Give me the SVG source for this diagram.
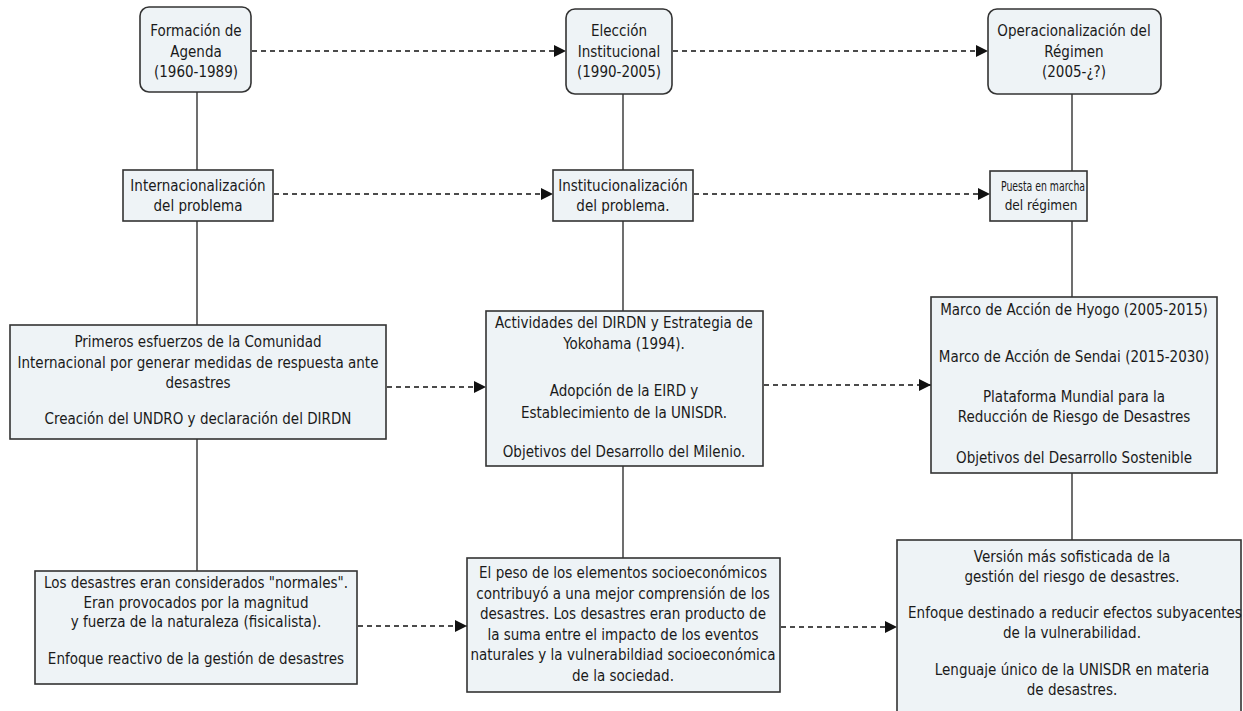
<svg xmlns="http://www.w3.org/2000/svg" width="1243" height="711" viewBox="0 0 1243 711">
<defs>
<marker id="ah" viewBox="0 0 10 10" refX="10" refY="5" markerWidth="12" markerHeight="12" markerUnits="userSpaceOnUse" orient="auto">
<path d="M0,0 L10,5 L0,10 z" fill="#111"/>
</marker>
</defs>
<style>
.box{fill:#eef3f6;stroke:#333;stroke-width:1.6}
.t{font-family:"DejaVu Sans Condensed","DejaVu Sans","Liberation Sans",sans-serif;font-stretch:condensed;font-size:15px;fill:#1a1a1a;text-anchor:middle}
.s{font-size:13.5px}
.solid{stroke:#222;stroke-width:1.3;fill:none}
.dash{stroke:#111;stroke-width:1.5;fill:none;stroke-dasharray:5 4;marker-end:url(#ah)}
</style>
<rect width="1243" height="711" fill="#fff"/>
<g id="connectors">
<path class="solid" d="M197,92 V170 M197,221 V325 M197,439 V571"/>
<path class="solid" d="M623,94 V170 M623,221 V311 M623,466 V558"/>
<path class="solid" d="M1072,94 V171 M1072,221 V297 M1072,473 V540"/>
<path class="dash" d="M252,51 H566"/>
<path class="dash" d="M673,51 H988"/>
<path class="dash" d="M274,194 H553"/>
<path class="dash" d="M694,194 H990"/>
<path class="dash" d="M387,387 H486"/>
<path class="dash" d="M764,385 H931"/>
<path class="dash" d="M358,626 H467"/>
<path class="dash" d="M781,627 H897"/>
</g>
<g id="n1">
<rect class="box" x="140" y="7" width="111" height="85" rx="9"/>
<text class="t" x="196" y="36">Formación de</text>
<text class="t" x="196" y="57">Agenda</text>
<text class="t" x="196" y="77">(1960-1989)</text>
</g>
<g id="n2">
<rect class="box" x="566" y="9" width="106" height="85" rx="9"/>
<text class="t" x="619" y="36">Elección</text>
<text class="t" x="619" y="57">Institucional</text>
<text class="t" x="619" y="77">(1990-2005)</text>
</g>
<g id="n3">
<rect class="box" x="988" y="9" width="173" height="85" rx="9"/>
<text class="t" x="1074" y="36">Operacionalización del</text>
<text class="t" x="1074" y="57">Régimen</text>
<text class="t" x="1074" y="77">(2005-¿?)</text>
</g>
<g id="n4">
<rect class="box" x="123" y="170" width="150" height="51"/>
<text class="t" x="198" y="191">Internacionalización</text>
<text class="t" x="198" y="211">del problema</text>
</g>
<g id="n5">
<rect class="box" x="553" y="170" width="140" height="51"/>
<text class="t" x="623" y="191">Institucionalización</text>
<text class="t" x="623" y="211">del problema.</text>
</g>
<g id="n6">
<rect class="box" x="990" y="171" width="97" height="50"/>
<text class="t s" x="1043" y="191" textLength="84" lengthAdjust="spacingAndGlyphs">Puesta en marcha</text>
<text class="t s" x="1041" y="210">del régimen</text>
</g>
<g id="n7">
<rect class="box" x="10" y="325" width="376" height="114"/>
<text class="t" x="198" y="347">Primeros esfuerzos de la Comunidad</text>
<text class="t" x="198" y="368">Internacional por generar medidas de respuesta ante</text>
<text class="t" x="198" y="388">desastres</text>
<text class="t" x="198" y="424">Creación del UNDRO y declaración del DIRDN</text>
</g>
<g id="n8">
<rect class="box" x="486" y="311" width="277" height="155"/>
<text class="t" x="624" y="328">Actividades del DIRDN y Estrategia de</text>
<text class="t" x="624" y="349">Yokohama (1994).</text>
<text class="t" x="624" y="396">Adopción de la EIRD y</text>
<text class="t" x="624" y="418">Establecimiento de la UNISDR.</text>
<text class="t" x="624" y="457">Objetivos del Desarrollo del Milenio.</text>
</g>
<g id="n9">
<rect class="box" x="931" y="297" width="286" height="176"/>
<text class="t" x="1074" y="315">Marco de Acción de Hyogo (2005-2015)</text>
<text class="t" x="1074" y="362">Marco de Acción de Sendai (2015-2030)</text>
<text class="t" x="1074" y="402">Plataforma Mundial para la</text>
<text class="t" x="1074" y="422">Reducción de Riesgo de Desastres</text>
<text class="t" x="1074" y="463">Objetivos del Desarrollo Sostenible</text>
</g>
<g id="n10">
<rect class="box" x="35" y="571" width="322" height="113"/>
<text class="t" x="196" y="588">Los desastres eran considerados "normales".</text>
<text class="t" x="196" y="608">Eran provocados por la magnitud</text>
<text class="t" x="196" y="627">y fuerza de la naturaleza (fisicalista).</text>
<text class="t" x="196" y="664">Enfoque reactivo de la gestión de desastres</text>
</g>
<g id="n11">
<rect class="box" x="467" y="558" width="313" height="134"/>
<text class="t" x="623" y="578">El peso de los elementos socioeconómicos</text>
<text class="t" x="623" y="599">contribuyó a una mejor comprensión de los</text>
<text class="t" x="623" y="619">desastres. Los desastres eran producto de</text>
<text class="t" x="623" y="640">la suma entre el impacto de los eventos</text>
<text class="t" x="623" y="660">naturales y la vulnerabildiad socioeconómica</text>
<text class="t" x="623" y="681">de la sociedad.</text>
</g>
<g id="n12">
<rect class="box" x="897" y="540" width="344" height="180"/>
<text class="t" x="1072" y="562">Versión más sofisticada de la</text>
<text class="t" x="1072" y="582">gestión del riesgo de desastres.</text>
<text class="t" x="1075" y="618">Enfoque destinado a reducir efectos subyacentes</text>
<text class="t" x="1072" y="638">de la vulnerabilidad.</text>
<text class="t" x="1072" y="675">Lenguaje único de la UNISDR en materia</text>
<text class="t" x="1072" y="695">de desastres.</text>
</g>
</svg>
